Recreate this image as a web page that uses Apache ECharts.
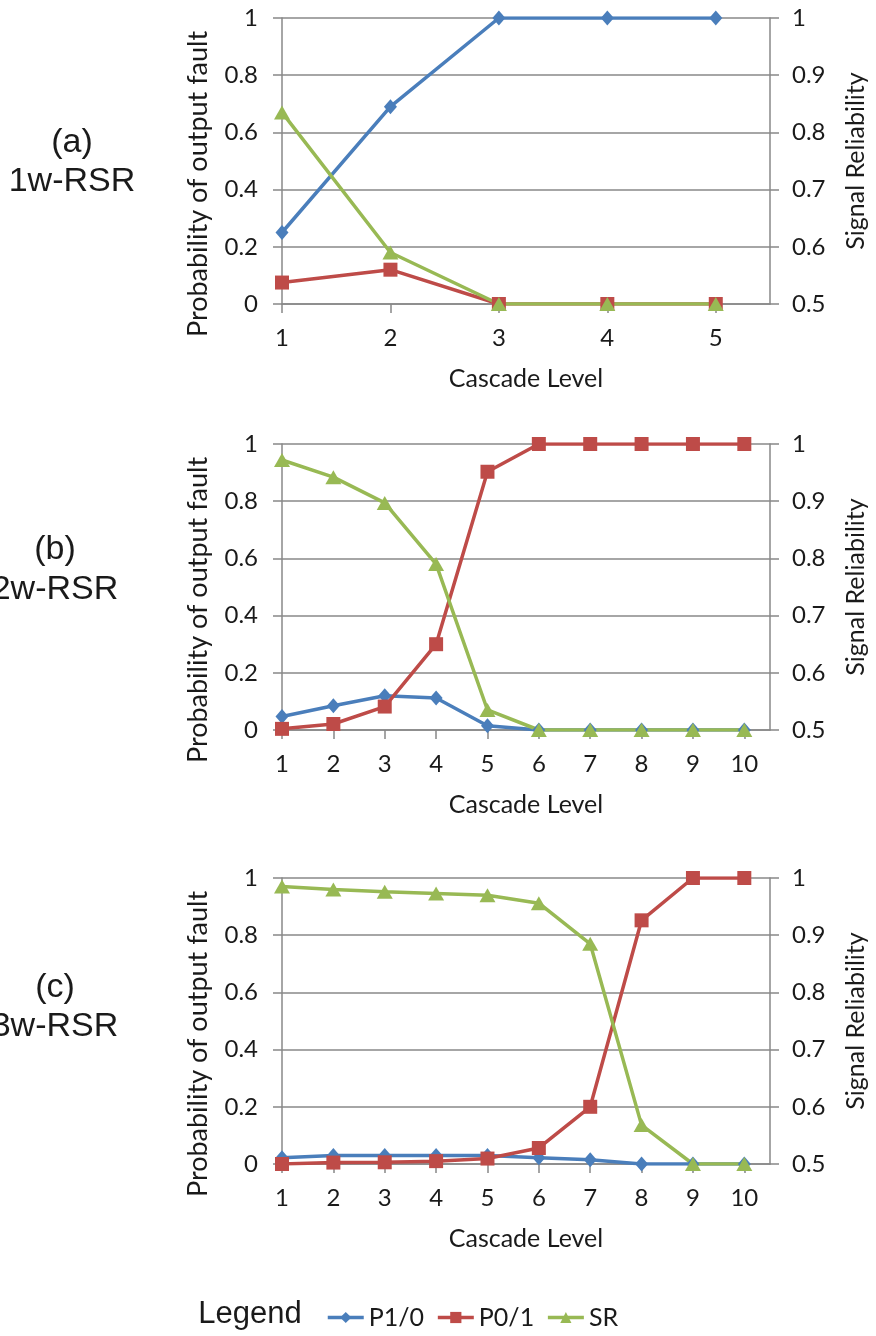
<!DOCTYPE html>
<html>
<head>
<meta charset="utf-8">
<title>Cascade Level</title>
<script src="https://cdn.jsdelivr.net/npm/echarts@6/dist/echarts.min.js"></script>
<style>
    html, body { margin: 0; padding: 0; background: #fff; }
    #main { width: 876px; height: 1336px; }
</style>
</head>
<body>
<div id="main"></div>
<script>
var levelsA = [1, 2, 3, 4, 5];
var levelsBC = [1, 2, 3, 4, 5, 6, 7, 8, 9, 10];

// (a) 1w-RSR
var p10A = [0.25, 0.69, 1, 1, 1];
var p01A = [0.075, 0.12, 0, 0, 0];
var srA = [0.835, 0.59, 0.5, 0.5, 0.5];

// (b) 2w-RSR
var p10B = [0.047, 0.085, 0.12, 0.112, 0.015, 0, 0, 0, 0, 0];
var p01B = [0.004, 0.021, 0.082, 0.3, 0.903, 1, 1, 1, 1, 1];
var srB = [0.972, 0.942, 0.897, 0.79, 0.535, 0.5, 0.5, 0.5, 0.5, 0.5];

// (c) 3w-RSR
var p10C = [0.022, 0.03, 0.03, 0.03, 0.03, 0.022, 0.015, 0, 0, 0];
var p01C = [0, 0.005, 0.006, 0.01, 0.019, 0.056, 0.2, 0.852, 1, 1];
var srC = [0.985, 0.98, 0.976, 0.973, 0.97, 0.956, 0.885, 0.568, 0.5, 0.5];

var leftTicks = [0, 0.2, 0.4, 0.6, 0.8, 1];
var rightTicks = [0.5, 0.6, 0.7, 0.8, 0.9, 1];
var seriesNames = ['P1/0', 'P0/1', 'SR'];
var panelLabels = [['(a)', '1w-RSR'], ['(b)', '2w-RSR'], ['(c)', '3w-RSR']];

window.onload = function() {
    var chart = echarts.init(document.getElementById('main'));

    var panels = [
        { levels: levelsA, xMax: 5.5, p10: p10A, p01: p01A, sr: srA, top: 18 },
        { levels: levelsBC, xMax: 10.5, p10: p10B, p01: p01B, sr: srB, top: 444 },
        { levels: levelsBC, xMax: 10.5, p10: p10C, p01: p01C, sr: srC, top: 878 }
    ];
    var labelPos = [[72, 143, 182], [55, 550, 590], [55, 988, 1027]];

    var font = 'Lato, "Open Sans", sans-serif';
    var labelFont = '34px "Liberation Sans", Arial, sans-serif';
    var textColor = '#1a1a1a';
    var gridColor = '#888888';
    var colors = ['#4A7EBB', '#BE4B48', '#98B954'];
    var symbols = ['diamond', 'rect', 'triangle'];
    var sizes = [[13, 15], 14, [16, 14]];

    function pairs(xs, ys) {
        return xs.map(function(x, i) { return [x, ys[i]]; });
    }

    var grid = [], xAxis = [], yAxis = [], series = [], graphic = [];

    panels.forEach(function(p, i) {
        grid.push({ left: 282, top: p.top, width: 490, height: 286, containLabel: false });

        xAxis.push({
            type: 'value',
            gridIndex: i,
            min: 1,
            max: p.xMax,
            interval: 1,
            name: 'Cascade Level',
            nameLocation: 'middle',
            nameGap: 62,
            nameTextStyle: { fontFamily: font, fontSize: 25, color: textColor },
            axisLine: { show: true, onZero: false, lineStyle: { color: gridColor, width: 1.5 } },
            axisTick: { show: true, length: 9, customValues: p.levels, lineStyle: { color: gridColor, width: 1.5 } },
            axisLabel: {
                customValues: p.levels,
                margin: 22,
                fontFamily: font, fontSize: 24, color: textColor,
                formatter: function(v) { return Math.round(v) === v ? String(v) : ''; }
            },
            splitLine: { show: false }
        });

        yAxis.push({
            type: 'value',
            gridIndex: i,
            position: 'left',
            min: leftTicks[0],
            max: leftTicks[leftTicks.length - 1],
            interval: 0.2,
            name: 'Probability of output fault',
            nameLocation: 'middle',
            nameRotate: 90,
            nameGap: 70,
            nameTextStyle: { fontFamily: font, fontSize: 27, color: textColor, padding: [0, 46, 0, 0] },
            axisLine: { show: true, lineStyle: { color: gridColor, width: 1.5 } },
            axisTick: { show: true, length: 9, lineStyle: { color: gridColor, width: 1.5 } },
            axisLabel: { margin: 24, fontFamily: font, fontSize: 24, color: textColor },
            splitLine: { show: true, lineStyle: { color: gridColor, width: 1.5 } }
        });

        yAxis.push({
            type: 'value',
            gridIndex: i,
            position: 'right',
            min: rightTicks[0],
            max: rightTicks[rightTicks.length - 1],
            interval: 0.1,
            name: 'Signal Reliability',
            nameLocation: 'middle',
            nameRotate: 90,
            nameGap: 73,
            nameTextStyle: { fontFamily: font, fontSize: 25, color: textColor },
            axisLine: { show: true, lineStyle: { color: gridColor, width: 1.5 } },
            axisTick: { show: true, length: 9, lineStyle: { color: gridColor, width: 1.5 } },
            axisLabel: { margin: 22, fontFamily: font, fontSize: 24, color: textColor },
            splitLine: { show: false }
        });

        var values = [p.p10, p.p01, p.sr];
        seriesNames.forEach(function(name, k) {
            series.push({
                name: name,
                type: 'line',
                xAxisIndex: i,
                yAxisIndex: k === 2 ? 2 * i + 1 : 2 * i,
                data: pairs(p.levels, values[k]),
                symbol: symbols[k],
                symbolSize: sizes[k],
                showAllSymbol: true,
                color: colors[k],
                itemStyle: { color: colors[k] },
                lineStyle: { color: colors[k], width: 3.5 }
            });
        });

        var lp = labelPos[i];
        graphic.push({
            type: 'text', x: lp[0], y: lp[1],
            style: { text: panelLabels[i][0], font: labelFont, fill: textColor, align: 'center', verticalAlign: 'middle' }
        });
        graphic.push({
            type: 'text', x: lp[0], y: lp[2],
            style: { text: panelLabels[i][1], font: labelFont, fill: textColor, align: 'center', verticalAlign: 'middle' }
        });
    });

    graphic.push({
        type: 'text', x: 250, y: 1314,
        style: { text: 'Legend', font: '31px "Liberation Sans", Arial, sans-serif', fill: textColor, align: 'center', verticalAlign: 'middle' }
    });

    var option = {
        animation: false,
        backgroundColor: '#fff',
        legend: {
            data: seriesNames,
            left: 321,
            top: 1300,
            itemWidth: 36,
            itemHeight: 14,
            itemGap: 12,
            lineStyle: { width: 3.5 },
            textStyle: { fontFamily: font, fontSize: 25, color: textColor }
        },
        grid: grid,
        xAxis: xAxis,
        yAxis: yAxis,
        series: series,
        graphic: graphic
    };

    chart.setOption(option);
};
</script>
</body>
</html>
